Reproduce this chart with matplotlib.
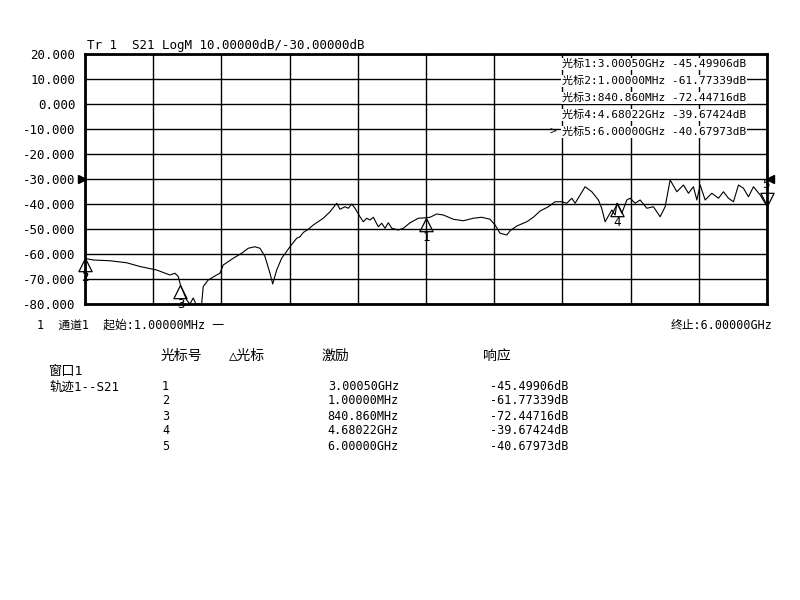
import numpy as np
import matplotlib.pyplot as plt
from matplotlib.path import Path

plt.rcParams['font.family'] = ['DejaVu Sans Mono', 'Noto Sans CJK SC']

# Traza S21 (frecuencia en GHz, magnitud en dB)
freq = [0.001, 0.073, 0.22, 0.367, 0.484, 0.631, 0.748, 0.792, 0.821, 0.84086,
        0.895, 0.924, 0.953, 0.977, 1.027, 1.041, 1.085, 1.159, 1.188, 1.217,
        1.305, 1.379, 1.437, 1.496, 1.54, 1.584, 1.628, 1.652, 1.687, 1.731,
        1.804, 1.863, 1.892, 1.921, 1.965, 2.009, 2.097, 2.156, 2.215, 2.244,
        2.288, 2.317, 2.347, 2.376, 2.42, 2.449, 2.479, 2.508, 2.537, 2.581,
        2.611, 2.64, 2.669, 2.699, 2.757, 2.801, 2.86, 2.933, 3.0005, 3.036,
        3.095, 3.153, 3.241, 3.329, 3.417, 3.491, 3.564, 3.608, 3.652, 3.711,
        3.74, 3.799, 3.887, 3.945, 4.004, 4.077, 4.136, 4.195, 4.239, 4.283,
        4.312, 4.356, 4.4, 4.459, 4.517, 4.546, 4.576, 4.635, 4.664, 4.68022,
        4.723, 4.767, 4.796, 4.84, 4.884, 4.943, 5.001, 5.06, 5.104, 5.148,
        5.207, 5.265, 5.309, 5.353, 5.383, 5.412, 5.456, 5.515, 5.573, 5.617,
        5.661, 5.705, 5.749, 5.793, 5.837, 5.881, 5.94, 5.984, 6.0]
s21 = [-61.77, -62.4, -62.7, -63.5, -65.0, -66.4, -68.4, -67.7, -69.0, -72.45,
       -78.4, -80.0, -77.6, -80.0, -80.0, -73.0, -70.4, -68.4, -67.7, -64.4,
       -61.7, -59.7, -57.7, -57.1, -57.7, -61.0, -67.7, -72.0, -66.4, -61.7,
       -57.1, -53.7, -53.1, -51.4, -50.1, -48.4, -45.7, -43.1, -39.7, -42.1,
       -41.1, -41.7, -40.0, -41.7, -45.1, -47.1, -45.7, -46.4, -45.3, -49.1,
       -47.7, -49.7, -47.5, -49.7, -50.4, -49.7, -47.5, -45.7, -45.5, -45.3,
       -44.0, -44.4, -46.1, -46.7, -45.7, -45.3, -46.1, -48.4, -51.7, -52.4,
       -50.7, -48.8, -47.1, -45.3, -42.8, -41.1, -39.1, -39.1, -39.7, -37.7,
       -39.7, -36.4, -33.1, -35.1, -38.4, -41.7, -47.1, -42.4, -44.4, -39.67,
       -43.7, -38.4, -37.7, -39.7, -38.4, -41.7, -41.1, -45.1, -41.1, -30.4,
       -35.1, -32.4, -35.7, -33.1, -38.4, -32.4, -38.4, -35.7, -37.7, -35.1,
       -37.7, -39.1, -32.4, -33.7, -37.1, -33.1, -36.4, -39.7, -40.68]

# Marcadores
mk_num = ['1', '2', '3', '4', '5']
mk_freq = [3.0005, 0.001, 0.84086, 4.68022, 6.0]
mk_db = [-45.49906, -61.77339, -72.44716, -39.67424, -40.67973]
mk_stim = ['3.00050GHz', '1.00000MHz', '840.860MHz', '4.68022GHz', '6.00000GHz']
mk_resp = ['-45.49906dB', '-61.77339dB', '-72.44716dB', '-39.67424dB', '-40.67973dB']

yticks = np.arange(-80, 21, 10)
ref_level = -30

W, H, DPI = 800, 600, 100
fig = plt.figure(figsize=(W/DPI, H/DPI), dpi=DPI, facecolor='white')
ax = fig.add_axes([85/W, 1-304/H, 682/W, 250/H])

ax.set_xlim(0.001, 6.0)
ax.set_ylim(-80, 20)
ax.set_xticks(np.linspace(0.001, 6.0, 11))
ax.set_yticks(yticks)
ax.set_xticklabels([])
ax.set_yticklabels(['%.3f' % v for v in yticks], fontsize=9)
ax.tick_params(length=0, pad=7)
ax.grid(True, color='black', linewidth=1)
for sp in ax.spines.values():
    sp.set_linewidth(2)

ax.plot(freq, s21, color='black', linewidth=0.8)

# triangulos con la punta en el punto del marcador
up = Path([(0, 0), (-0.5, -1), (0.5, -1), (0, 0)], closed=True)
down = Path([(0, 0), (-0.5, 1), (0.5, 1), (0, 0)], closed=True)
for i in range(5):
    if i == 4:
        ax.plot(mk_freq[i], mk_db[i], marker=down, ms=19, mfc='none', mec='black',
                mew=0.9, clip_on=False)
        ax.annotate(mk_num[i], (mk_freq[i], mk_db[i]), xytext=(-1, 15),
                    textcoords='offset points', ha='center', va='center',
                    fontsize=9, annotation_clip=False)
    else:
        ax.plot(mk_freq[i], mk_db[i], marker=up, ms=19, mfc='none', mec='black',
                mew=0.9, clip_on=False)
        ax.annotate(mk_num[i], (mk_freq[i], mk_db[i]), xytext=(0, -14),
                    textcoords='offset points', ha='center', va='center',
                    fontsize=9, annotation_clip=False)

# nivel de referencia
ax.plot([-0.004], [ref_level], marker='>', ms=6, color='black',
        transform=ax.get_yaxis_transform(), clip_on=False)
ax.plot([1.004], [ref_level], marker='<', ms=6, color='black',
        transform=ax.get_yaxis_transform(), clip_on=False)


def px(x, y, s, **kw):
    kw.setdefault('fontsize', 8.5)
    kw.setdefault('va', 'center')
    fig.text(x/W, 1-y/H, s, **kw)


px(87, 46, 'Tr 1  S21 LogM 10.00000dB/-30.00000dB', fontsize=9)

for i in range(5):
    line = '光标%s:%s %s' % (mk_num[i], mk_stim[i], mk_resp[i])
    px(562, 64 + 17*i, line, fontsize=8,
       bbox=dict(facecolor='white', edgecolor='none', pad=0.5))
px(550, 132, '>', fontsize=8)

px(37, 325, '1  通道1  起始:1.00000MHz 一', fontsize=8.5)
px(773, 325, '终止:6.00000GHz', ha='right', fontsize=8.5)

px(161, 356, '光标号', fontsize=10)
px(229, 356, '△光标', fontsize=10)
px(322, 356, '激励', fontsize=10)
px(483, 356, '响应', fontsize=10)
px(49, 371, '窗口1', fontsize=9.5)
px(49, 387, '轨迹1--S21', fontsize=9)
for i in range(5):
    y = 386 + 15*i
    px(162, y, mk_num[i])
    px(399, y, mk_stim[i], ha='right')
    px(568, y, mk_resp[i], ha='right')

plt.savefig('out.png', dpi=DPI)
